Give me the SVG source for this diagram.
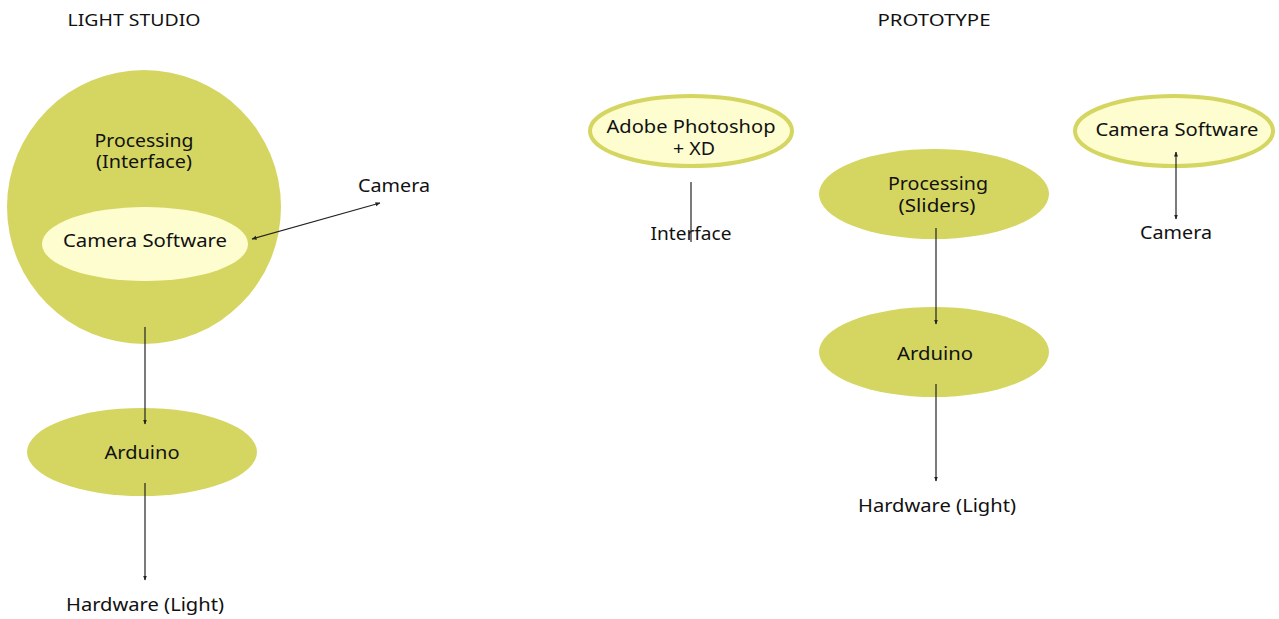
<svg xmlns="http://www.w3.org/2000/svg" width="1279" height="619" viewBox="0 0 1279 619">
  <style>
    text { font-family: "Noto Sans", "Open Sans", sans-serif; font-size: 18px; fill: #111; text-anchor: middle; }
    .title { font-size: 17px; }
    .solid { fill: #d5d662; }
    .pale { fill: #fdfdd0; }
    .ring { fill: #fdfdd0; stroke: #d5d662; stroke-width: 4; }
    .link { stroke: #222; stroke-width: 1.2; fill: none; }
  </style>
  <defs>
    <marker id="tip" viewBox="0 0 10 10" refX="9" refY="5" markerWidth="5" markerHeight="5" orient="auto-start-reverse" markerUnits="userSpaceOnUse">
      <path d="M0,1 L10,5 L0,9 Z" fill="#222"/>
    </marker>
  </defs>

  <rect width="1279" height="619" fill="#ffffff"/>

  <!-- section headings -->
  <text class="title" x="134" y="26" textLength="133" lengthAdjust="spacingAndGlyphs">LIGHT STUDIO</text>
  <text class="title" x="934" y="26" textLength="113" lengthAdjust="spacingAndGlyphs">PROTOTYPE</text>

  <!-- Light studio: processing sphere with embedded camera software -->
  <g id="ls-processing">
    <ellipse class="solid" cx="144" cy="207" rx="137" ry="137"/>
    <text x="144" y="147" textLength="99" lengthAdjust="spacingAndGlyphs">Processing</text>
    <text x="144" y="168" textLength="96" lengthAdjust="spacingAndGlyphs">(Interface)</text>
  </g>
  <g id="ls-camera-software">
    <ellipse class="pale" cx="145" cy="244" rx="103" ry="37"/>
    <text x="145" y="247" textLength="164" lengthAdjust="spacingAndGlyphs">Camera Software</text>
  </g>
  <g id="ls-camera">
    <text x="394" y="192" textLength="72" lengthAdjust="spacingAndGlyphs">Camera</text>
  </g>
  <g id="ls-arduino">
    <ellipse class="solid" cx="142" cy="452" rx="115" ry="44"/>
    <text x="142" y="459" textLength="75" lengthAdjust="spacingAndGlyphs">Arduino</text>
  </g>
  <g id="ls-hardware">
    <text x="145" y="611" textLength="158" lengthAdjust="spacingAndGlyphs">Hardware (Light)</text>
  </g>

  <!-- Prototype -->
  <g id="pt-adobe">
    <ellipse class="ring" cx="691" cy="131" rx="101" ry="35"/>
    <text x="691" y="133" textLength="169" lengthAdjust="spacingAndGlyphs">Adobe Photoshop</text>
    <text x="694" y="155" textLength="42" lengthAdjust="spacingAndGlyphs">+ XD</text>
  </g>
  <g id="pt-interface">
    <text x="691" y="240" textLength="81" lengthAdjust="spacingAndGlyphs">Interface</text>
  </g>
  <g id="pt-camera-software">
    <ellipse class="ring" cx="1174" cy="131" rx="99" ry="35"/>
    <text x="1177" y="136" textLength="163" lengthAdjust="spacingAndGlyphs">Camera Software</text>
  </g>
  <g id="pt-camera">
    <text x="1176" y="239" textLength="72" lengthAdjust="spacingAndGlyphs">Camera</text>
  </g>
  <g id="pt-processing">
    <ellipse class="solid" cx="934" cy="194" rx="115" ry="45"/>
    <text x="938" y="190" textLength="100" lengthAdjust="spacingAndGlyphs">Processing</text>
    <text x="937" y="212" textLength="77" lengthAdjust="spacingAndGlyphs">(Sliders)</text>
  </g>
  <g id="pt-arduino">
    <ellipse class="solid" cx="934" cy="352" rx="115" ry="45"/>
    <text x="935" y="360" textLength="76" lengthAdjust="spacingAndGlyphs">Arduino</text>
  </g>
  <g id="pt-hardware">
    <text x="937" y="512" textLength="158" lengthAdjust="spacingAndGlyphs">Hardware (Light)</text>
  </g>

  <!-- connectors -->
  <g id="connectors">
    <line class="link" x1="252" y1="239" x2="380" y2="203" marker-start="url(#tip)" marker-end="url(#tip)"/>
    <line class="link" x1="145" y1="327" x2="145" y2="424" marker-end="url(#tip)"/>
    <line class="link" x1="145" y1="483" x2="145" y2="580" marker-end="url(#tip)"/>
    <line class="link" x1="691" y1="182" x2="691" y2="242"/>
    <line class="link" x1="1176" y1="152" x2="1176" y2="219" marker-start="url(#tip)" marker-end="url(#tip)"/>
    <line class="link" x1="936" y1="228" x2="936" y2="324" marker-end="url(#tip)"/>
    <line class="link" x1="936" y1="384" x2="936" y2="481" marker-end="url(#tip)"/>
  </g>
</svg>
